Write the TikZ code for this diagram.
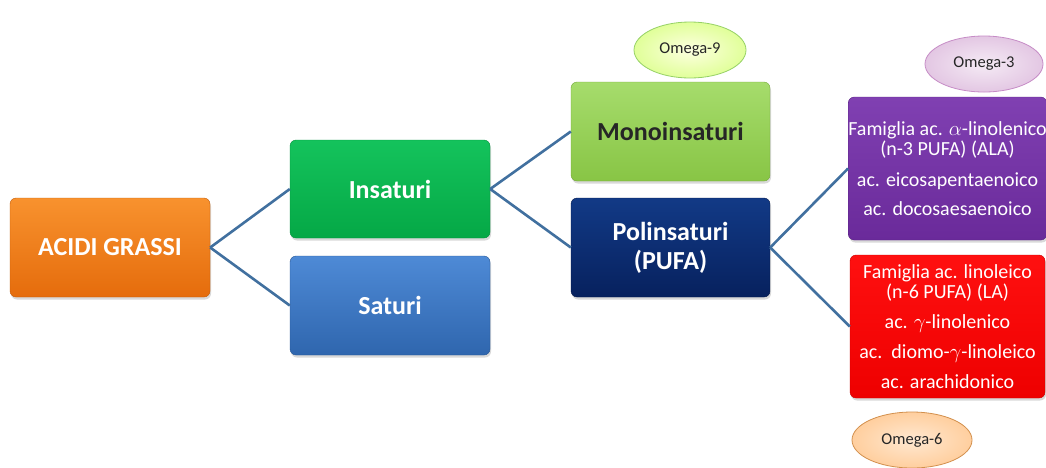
\documentclass[tikz,border=0pt]{standalone}
\usepackage{fontspec}
\setmainfont{Carlito}
\usetikzlibrary{shapes.geometric,shadows}

% box fills (top / bottom of the gradient)
\definecolor{orangeT}{HTML}{F8922E}
\definecolor{orangeB}{HTML}{E56C0C}
\definecolor{greenT}{HTML}{14C35C}
\definecolor{greenB}{HTML}{05A846}
\definecolor{blueT}{HTML}{4E8AD6}
\definecolor{blueB}{HTML}{2F66AE}
\definecolor{limeT}{HTML}{A6DC6C}
\definecolor{limeB}{HTML}{88C545}
\definecolor{navyT}{HTML}{123A86}
\definecolor{navyB}{HTML}{07215E}
\definecolor{purpleT}{HTML}{8040B2}
\definecolor{purpleB}{HTML}{6A2A9A}
\definecolor{redT}{HTML}{FF1010}
\definecolor{redB}{HTML}{EE0000}
\definecolor{linkblue}{HTML}{41709F}

\begin{document}
\begin{tikzpicture}[x=1pt,y=1pt,
  box/.style={rectangle, rounded corners=6pt, inner sep=0pt, align=center,
    drop shadow={opacity=0.30, shadow xshift=1pt, shadow yshift=-2.5pt}},
  bigtext/.style={font=\fontsize{26}{29}\selectfont\bfseries},
  listtext/.style={font=\fontsize{20}{20}\selectfont, text=white},
  omega/.style={ellipse, inner sep=0pt, minimum width=112pt, minimum height=56pt,
    font=\fontsize{16.5}{18}\selectfont, text=black!85, line width=0.8pt},
  link/.style={draw=linkblue, line width=2.6pt}]

\useasboundingbox (0,0) rectangle (1046,-467);

% main tree boxes
\node[box, bigtext, text=white, minimum width=200pt, minimum height=99pt,
  top color=orangeT, bottom color=orangeB, draw=orangeB!85!black]
  (acidi) at (110,-247.5) {ACIDI GRASSI};
\node[box, bigtext, text=white, minimum width=200pt, minimum height=98pt,
  top color=greenT, bottom color=greenB, draw=greenB!85!black]
  (ins) at (390,-189) {Insaturi};
\node[box, bigtext, text=white, minimum width=200pt, minimum height=99pt,
  top color=blueT, bottom color=blueB, draw=blueB!85!black]
  (sat) at (390,-305.5) {Saturi};
\node[box, bigtext, text=black!85, minimum width=199pt, minimum height=99pt,
  top color=limeT, bottom color=limeB, draw=limeB!85!black]
  (mono) at (670.5,-131.5) {Monoinsaturi};
\node[box, bigtext, text=white, minimum width=199pt, minimum height=99pt,
  top color=navyT, bottom color=navyB, draw=navyB!80!black]
  (poli) at (670.5,-247.5) {Polinsaturi\\(PUFA)};

% fatty acid families
\node[box, listtext, minimum width=195pt, minimum height=143pt,
  top color=purpleT, bottom color=purpleB, draw=purpleB!85!black]
  (n3) at (947.5,-168.5)
  {Famiglia ac. $\alpha$-linolenico\\(n-3 PUFA) (ALA)\\[11pt]
   ac. eicosapentaenoico\\[9pt]ac. docosaesaenoico};
\node[box, listtext, minimum width=195pt, minimum height=143pt,
  top color=redT, bottom color=redB, draw=redB!85!black]
  (n6) at (947.5,-326.5)
  {Famiglia ac. linoleico\\(n-6 PUFA) (LA)\\[10pt]
   ac. $\gamma$-linolenico\\[10pt]ac.\ \ diomo-$\gamma$-linoleico\\[10pt]
   ac. arachidonico};

% omega labels
\node[omega, inner color=green!6!yellow!12, outer color=green!30!yellow!40!white,
  draw=green!55!yellow!70!black!60] (om9) at (690,-50) {Omega-9};
\node[omega, minimum width=118pt, inner color=violet!8, outer color=violet!22,
  draw=violet!45] (om3) at (984,-64) {Omega-3};
\node[omega, minimum width=120pt, inner color=orange!18, outer color=orange!38,
  draw=orange!75!black!70] (om6) at (912,-440) {Omega-6};

% connectors
\draw[link] (acidi.east) -- (ins.west);
\draw[link] (acidi.east) -- (sat.west);
\draw[link] (ins.east) -- (mono.west);
\draw[link] (ins.east) -- (poli.west);
\draw[link] (poli.east) -- (n3.west);
\draw[link] (poli.east) -- (n6.west);
\end{tikzpicture}
\end{document}
